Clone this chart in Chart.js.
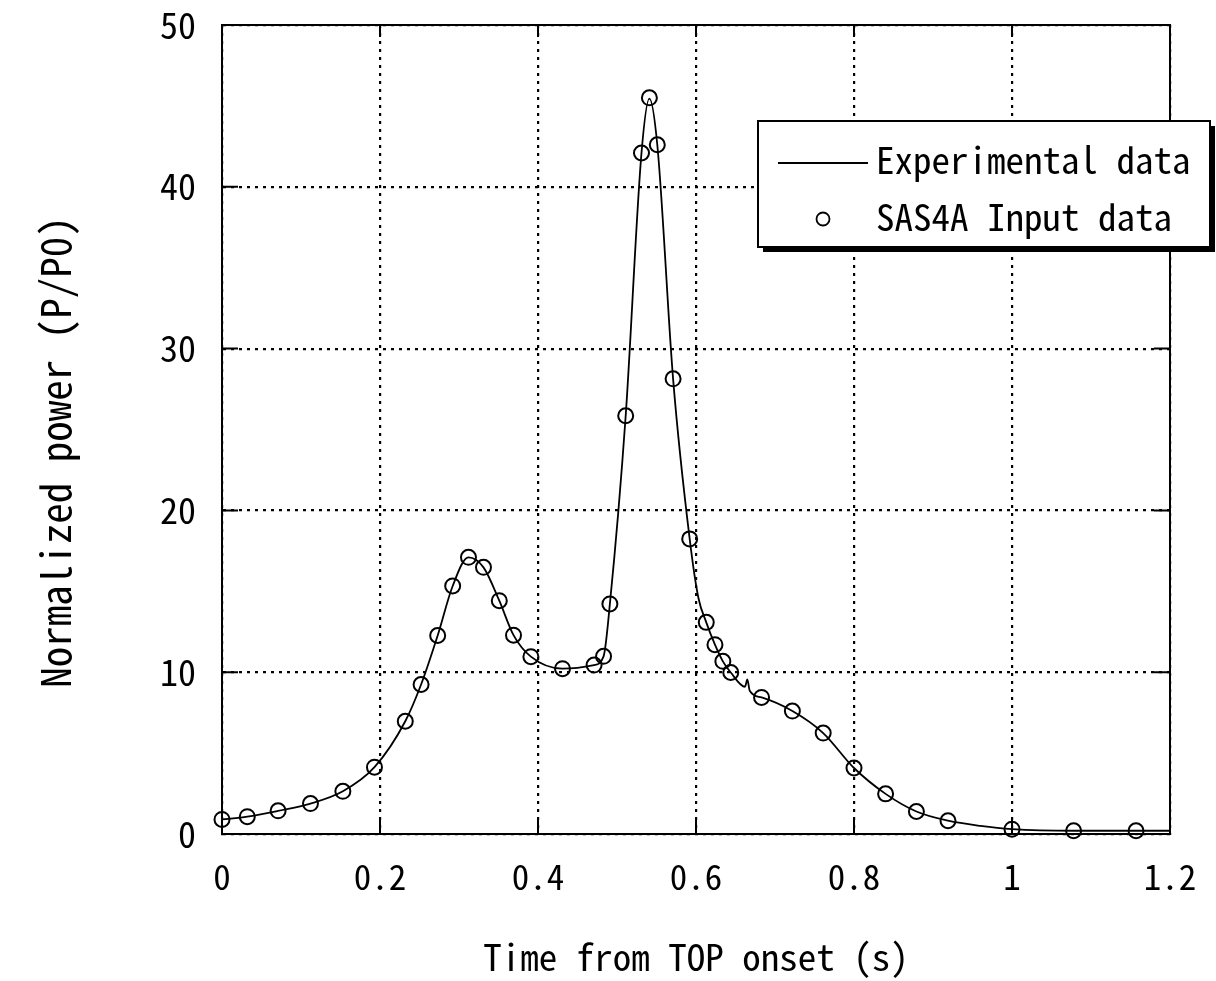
<!DOCTYPE html>
<html><head><meta charset="utf-8">
<script src="https://cdn.jsdelivr.net/npm/chart.js@4.4.1/dist/chart.umd.min.js"></script>
<style>html,body{margin:0;padding:0;background:#fff;} #wrap{width:1216px;height:981px;}</style>
</head><body><div id="wrap"><canvas id="c" width="1216" height="981"></canvas></div>
<script>
const xTickValues = [0, 0.2, 0.4, 0.6, 0.8, 1.0, 1.2];
const xTickLabels = ['0', '0.2', '0.4', '0.6', '0.8', '1', '1.2'];
const yTickValues = [0, 10, 20, 30, 40, 50];
const yTickLabels = ['0', '10', '20', '30', '40', '50'];
const seriesNames = ['Experimental data', 'SAS4A Input data'];
const xAxisTitle = 'Time from TOP onset (s)';
const yAxisTitle = 'Normalized power (P/P0)';

const expTime  = [0, 0.032, 0.071, 0.112, 0.153, 0.193, 0.232, 0.252, 0.273, 0.292, 0.312, 0.331, 0.351, 0.369, 0.391, 0.431, 0.471, 0.483, 0.491, 0.511, 0.531, 0.541, 0.551, 0.571, 0.592, 0.603, 0.613, 0.624, 0.634, 0.644, 0.662, 0.665, 0.668, 0.683, 0.722, 0.761, 0.800, 0.840, 0.879, 0.919, 0.96, 1.0, 1.078, 1.157, 1.2];
const expPower = [0.9, 1.07, 1.43, 1.88, 2.64, 4.13, 6.97, 9.24, 12.27, 15.33, 17.10, 16.48, 14.42, 12.29, 10.96, 10.22, 10.44, 10.98, 14.22, 25.85, 42.09, 45.45, 42.6, 28.13, 18.24, 14.6, 13.08, 11.70, 10.67, 9.98, 9.1, 9.55, 8.85, 8.44, 7.60, 6.24, 4.08, 2.48, 1.39, 0.82, 0.5, 0.3, 0.2, 0.2, 0.2];

const simTime  = [0, 0.032, 0.071, 0.112, 0.153, 0.193, 0.232, 0.252, 0.273, 0.292, 0.312, 0.331, 0.351, 0.369, 0.391, 0.431, 0.471, 0.483, 0.491, 0.511, 0.531, 0.541, 0.551, 0.571, 0.592, 0.613, 0.624, 0.634, 0.644, 0.683, 0.722, 0.761, 0.800, 0.840, 0.879, 0.919, 1.0, 1.078, 1.157];
const simPower = [0.9, 1.07, 1.43, 1.88, 2.64, 4.13, 6.97, 9.24, 12.27, 15.33, 17.10, 16.48, 14.42, 12.29, 10.96, 10.22, 10.44, 10.98, 14.22, 25.85, 42.09, 45.50, 42.6, 28.13, 18.24, 13.08, 11.70, 10.67, 9.98, 8.44, 7.60, 6.24, 4.08, 2.48, 1.39, 0.82, 0.3, 0.2, 0.2];

const FONT = "'Noto Sans Mono CJK JP','Noto Sans Mono CJK SC','DejaVu Sans Mono',monospace";

const framePlugin = {
  id: 'frame',
  afterDraw(chart) {
    const ctx = chart.ctx;
    const {left, right, top, bottom} = chart.chartArea;
    const xs = chart.scales.x, ys = chart.scales.y;
    ctx.save();
    ctx.strokeStyle = '#000';
    ctx.lineWidth = 2;
    ctx.strokeRect(left, top, right - left, bottom - top);
    ctx.beginPath();
    xTickValues.forEach(v => {
      const px = xs.getPixelForValue(v);
      ctx.moveTo(px, bottom); ctx.lineTo(px, bottom - 15);
      ctx.moveTo(px, top); ctx.lineTo(px, top + 12);
    });
    yTickValues.forEach(v => {
      const py = ys.getPixelForValue(v);
      ctx.moveTo(left, py); ctx.lineTo(left + 16, py);
      ctx.moveTo(right, py); ctx.lineTo(right - 16, py);
    });
    ctx.stroke();

    // y-axis title
    ctx.save();
    ctx.translate(55, 452);
    ctx.rotate(-Math.PI / 2);
    ctx.fillStyle = '#000';
    ctx.font = '41px ' + FONT;
    ctx.textAlign = 'center';
    ctx.textBaseline = 'middle';
    ctx.fillText(yAxisTitle, 0, 0);
    ctx.restore();

    // legend box
    const bx = 758, by = 121, bw = 452, bh = 126;
    ctx.fillStyle = '#000';
    ctx.fillRect(bx + 5, by + 5, bw, bh);
    ctx.fillStyle = '#fff';
    ctx.fillRect(bx, by, bw, bh);
    ctx.lineWidth = 2;
    ctx.strokeRect(bx, by, bw, bh);
    ctx.lineWidth = 1.8;
    ctx.beginPath();
    ctx.moveTo(778, 163); ctx.lineTo(868, 163);
    ctx.stroke();
    ctx.beginPath();
    ctx.arc(823, 219, 6.5, 0, Math.PI * 2);
    ctx.stroke();
    ctx.fillStyle = '#000';
    ctx.font = '37px ' + FONT;
    ctx.textBaseline = 'middle';
    ctx.textAlign = 'left';
    ctx.fillText(seriesNames[0], 876, 160);
    ctx.fillText(seriesNames[1], 876, 217);
    ctx.restore();
  }
};

const ctx = document.getElementById('c').getContext('2d');
new Chart(ctx, {
  type: 'scatter',
  data: {
    datasets: [
      {
        type: 'line',
        label: seriesNames[0],
        data: expTime.map((t, i) => ({x: t, y: expPower[i]})),
        borderColor: '#000',
        borderWidth: 1.8,
        pointRadius: 0,
        fill: false,
        cubicInterpolationMode: 'monotone',
        clip: false
      },
      {
        label: seriesNames[1],
        data: simTime.map((t, i) => ({x: t, y: simPower[i]})),
        showLine: false,
        pointStyle: 'circle',
        pointRadius: 7.5,
        pointBorderWidth: 2,
        borderColor: '#000',
        backgroundColor: 'rgba(0,0,0,0)',
        pointBackgroundColor: 'rgba(0,0,0,0)',
        clip: false
      }
    ]
  },
  options: {
    responsive: false,
    devicePixelRatio: 1,
    animation: false,
    layout: { padding: { left: 0, top: 25, right: 46, bottom: 0 } },
    plugins: { legend: { display: false }, tooltip: { enabled: false } },
    scales: {
      x: {
        type: 'linear', min: 0, max: 1.2,
        afterBuildTicks: s => { s.ticks = xTickValues.map(v => ({value: v})); },
        afterFit: s => { s.height = 147; s.paddingLeft = 0; s.paddingRight = 0; },
        ticks: {
          color: '#000', padding: 22, maxRotation: 0,
          font: { family: FONT, size: 35 },
          callback: (v) => { const i = xTickValues.findIndex(t => Math.abs(t - v) < 1e-9); return i >= 0 ? xTickLabels[i] : ''; }
        },
        grid: { color: '#000', lineWidth: 2.2, drawTicks: false },
        border: { display: true, color: '#000', width: 2, dash: [3, 5] },
        title: { display: true, text: xAxisTitle, color: '#000', font: { family: FONT, size: 37 }, padding: { top: 0, bottom: 2 } }
      },
      y: {
        type: 'linear', min: 0, max: 50,
        afterBuildTicks: s => { s.ticks = yTickValues.map(v => ({value: v})); },
        afterFit: s => { s.width = 222; s.paddingTop = 0; s.paddingBottom = 0; },
        ticks: {
          color: '#000', padding: 26,
          font: { family: FONT, size: 36 },
          callback: (v) => { const i = yTickValues.indexOf(v); return i >= 0 ? yTickLabels[i] : ''; }
        },
        grid: { color: '#000', lineWidth: 2.2, drawTicks: false },
        border: { display: true, color: '#000', width: 2, dash: [3, 5] },
        title: { display: false, text: yAxisTitle }
      }
    }
  },
  plugins: [framePlugin]
});
</script>
</body></html>
